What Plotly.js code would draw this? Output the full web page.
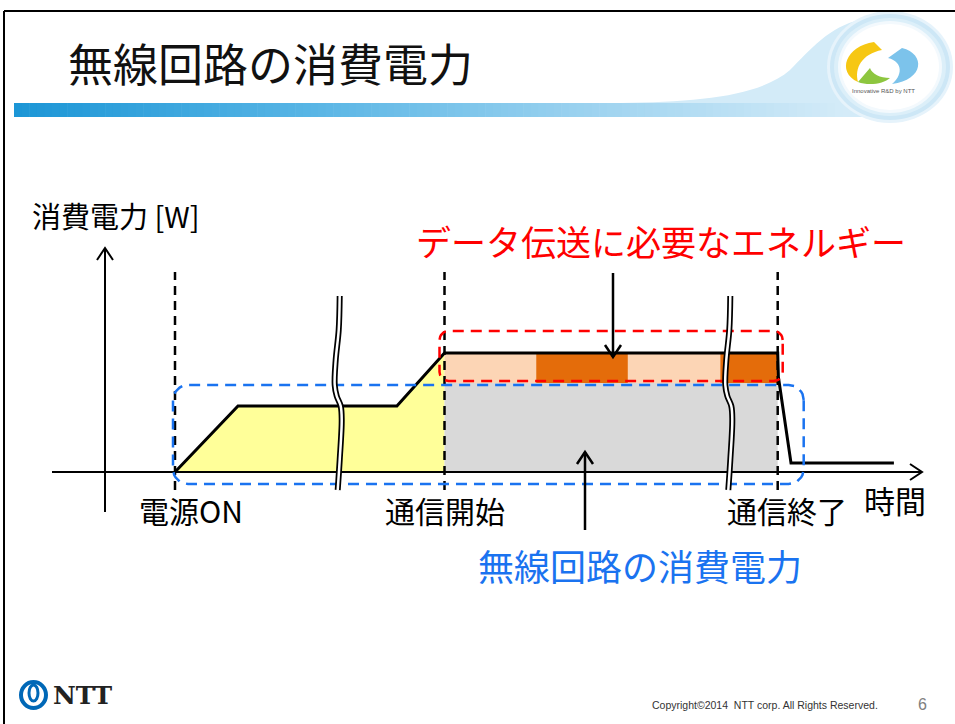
<!DOCTYPE html>
<html>
<head>
<meta charset="utf-8">
<script src="https://cdn.plot.ly/plotly-3.0.1.min.js"></script>
<style>
  html, body { margin: 0; padding: 0; background: #fff; }
  #chart { width: 955px; height: 724px; }
</style>
</head>
<body>
<div id="chart"></div>
<script>
// ---- Power profile of the radio circuit (time units, power units) ----
const profileTime  = [1.0, 1.9, 4.17, 4.85, 9.61, 9.62, 9.8, 11.27];
const profilePower = [0.0, 3.3, 3.3,  5.95, 5.95, 4.75, 0.45, 0.45];

// Events marked on the time axis
const eventTime  = [1.0, 4.85, 9.61];
const eventLabel = ['電源ON', '通信開始', '通信終了'];

// Circuit consumption and total consumption while communicating
const circuitPower = 4.45;
const commPower    = 5.95;

// Energy blocks needed for data transfer
const txStart = [4.85, 6.16, 7.47, 8.79];
const txEnd   = [6.16, 7.47, 8.79, 9.61];
const txKind  = ['idle', 'burst', 'idle', 'burst'];

// Where the time axis is broken (omitted stretches)
const breakTime = [3.31, 8.89];

// ---- Page geometry ----
const W = 955, H = 724;
const ORIGIN_X = 105, ORIGIN_Y = 472;   // where the axes cross on the page
const X_PX = 70, Y_PX = 20;             // pixels per unit
const ux = p => p / X_PX;               // pixel length -> time units
const uy = p => p / Y_PX;               // pixel length -> power units
const px = x => x / W;                  // page x -> paper
const py = y => 1 - y / H;              // page y -> paper

const JP = '"Noto Sans CJK JP", "Noto Sans", sans-serif';
const traces = [];
const plain = { mode: 'lines', hoverinfo: 'skip', showlegend: false };

// Start-up area (power on until communication starts)
const iStart = profileTime.indexOf(eventTime[1]);
traces.push(Object.assign({}, plain, {
  x: profileTime.slice(0, iStart + 1).concat([eventTime[1]]),
  y: profilePower.slice(0, iStart + 1).concat([0]),
  fill: 'toself', fillcolor: '#FFFF99', line: { width: 0 }
}));

// Radio circuit consumption during communication
traces.push(Object.assign({}, plain, {
  x: [eventTime[1], eventTime[2], eventTime[2], eventTime[1]],
  y: [0, 0, circuitPower, circuitPower],
  fill: 'toself', fillcolor: '#D9D9D9', line: { width: 0 }
}));

// Data-transfer energy blocks
txStart.forEach((s, i) => {
  traces.push(Object.assign({}, plain, {
    x: [s, txEnd[i], txEnd[i], s],
    y: [circuitPower, circuitPower, commPower, commPower],
    fill: 'toself',
    fillcolor: txKind[i] === 'burst' ? '#E46C0A' : '#FCD5B5',
    line: { width: 0 }
  }));
});

// Power curve
traces.push(Object.assign({}, plain, {
  x: profileTime, y: profilePower,
  line: { color: '#000', width: 3 }
}));

// Axes with open arrowheads
const xTip = ux(922 - ORIGIN_X), yTip = uy(ORIGIN_Y - 248);
const axisLine = { color: '#000', width: 2 };
traces.push(Object.assign({}, plain, { x: [ux(52 - ORIGIN_X), xTip], y: [0, 0], line: axisLine }));
traces.push(Object.assign({}, plain, { x: [xTip - ux(12), xTip, xTip - ux(12)], y: [uy(8), 0, -uy(8)], line: axisLine }));
traces.push(Object.assign({}, plain, { x: [0, 0], y: [-uy(40), yTip], line: axisLine }));
traces.push(Object.assign({}, plain, { x: [-ux(8), 0, ux(8)], y: [yTip - uy(12), yTip, yTip - uy(12)], line: axisLine }));

// Event markers
eventTime.forEach(t => {
  traces.push(Object.assign({}, plain, {
    x: [t, t], y: [-uy(18), uy(200)],
    line: { color: '#000', width: 2.5, dash: '9px,6px' }
  }));
});

// Rounded dashed frames
function roundedBox(t0, t1, p0, p1, r) {
  const xs = [], ys = [];
  const corners = [
    [t1 - ux(r), p1 - uy(r), 0],
    [t0 + ux(r), p1 - uy(r), 90],
    [t0 + ux(r), p0 + uy(r), 180],
    [t1 - ux(r), p0 + uy(r), 270]
  ];
  corners.forEach(([cx, cy, a0]) => {
    for (let k = 0; k <= 8; k++) {
      const a = (a0 + k * 90 / 8) * Math.PI / 180;
      xs.push(cx + ux(r) * Math.cos(a));
      ys.push(cy + uy(r) * Math.sin(a));
    }
  });
  xs.push(xs[0]); ys.push(ys[0]);
  return { x: xs, y: ys };
}
const redBox = roundedBox(eventTime[1] - ux(5), eventTime[2] + ux(5),
                          circuitPower + uy(2), commPower + uy(22), 9);
traces.push(Object.assign({}, plain, redBox, { line: { color: '#FF0000', width: 2.5, dash: '11px,7px' } }));
const blueBox = roundedBox(eventTime[0] - ux(2), eventTime[2] + ux(26),
                           -uy(12), circuitPower - uy(2), 15);
traces.push(Object.assign({}, plain, blueBox, { line: { color: '#1A73F0', width: 2.5, dash: '11px,7px' } }));

// Axis-break marks (double wavy lines)
const breakDx = [3, 2, -1, -2, 0, 4, 5, 3, 1];
const breakY  = [296, 330, 360, 385, 396, 406, 420, 460, 490];
breakTime.forEach(t => {
  const bx = breakDx.map(d => t + ux(d));
  const by = breakY.map(y => uy(ORIGIN_Y - y));
  traces.push(Object.assign({}, plain, { x: bx, y: by, line: { color: '#000', width: 6, shape: 'spline' } }));
  traces.push(Object.assign({}, plain, { x: bx, y: by, line: { color: '#fff', width: 2.5, shape: 'spline' } }));
});

// Pointer arrows
const pointerArrows = [
  { t: ux(613 - ORIGIN_X), from: uy(ORIGIN_Y - 273), to: commPower - uy(4) },
  { t: ux(585 - ORIGIN_X), from: -uy(58), to: uy(20) }
];
pointerArrows.forEach(a => {
  const dir = a.to > a.from ? 1 : -1;
  const ln = { color: '#000', width: 2.5 };
  traces.push(Object.assign({}, plain, { x: [a.t, a.t], y: [a.from, a.to], line: ln }));
  traces.push(Object.assign({}, plain, {
    x: [a.t - ux(8), a.t, a.t + ux(8)],
    y: [a.to - dir * uy(12), a.to, a.to - dir * uy(12)],
    line: ln
  }));
});

// ---- Page furniture: header bar, emblem, frame ----
const shapes = [];
// swoosh rising into the emblem
shapes.push({
  type: 'path', xref: 'paper', yref: 'paper', layer: 'below',
  path: `M ${px(620)},${py(103)} C ${px(700)},${py(102)} ${px(760)},${py(96)} ${px(790)},${py(70)} ` +
        `C ${px(810)},${py(50)} ${px(830)},${py(26)} ${px(860)},${py(20)} L ${px(870)},${py(117)} L ${px(620)},${py(117)} Z`,
  fillcolor: '#D3EBF8', line: { width: 0 }
});
// gradient bar
const barStops = [[0, [28, 150, 214]], [0.35, [88, 181, 229]], [0.7, [160, 212, 240]], [1, [214, 236, 248]]];
function barColor(f) {
  for (let i = 1; i < barStops.length; i++) {
    if (f <= barStops[i][0]) {
      const [f0, c0] = barStops[i - 1], [f1, c1] = barStops[i];
      const k = (f - f0) / (f1 - f0);
      return `rgb(${c0.map((c, j) => Math.round(c + (c1[j] - c) * k)).join(',')})`;
    }
  }
  return 'rgb(214,236,248)';
}
const barX0 = 14, barX1 = 850, nSlices = 110;
for (let i = 0; i < nSlices; i++) {
  const a = barX0 + (barX1 - barX0) * i / nSlices;
  const b = barX0 + (barX1 - barX0) * (i + 1) / nSlices + 0.6;
  shapes.push({
    type: 'rect', xref: 'paper', yref: 'paper', layer: 'below',
    x0: px(a), x1: px(b), y0: py(117), y1: py(103),
    fillcolor: barColor(i / nSlices), line: { width: 0 }
  });
}
// emblem disc with soft rim
const emCx = 890, emCy = 67;
[[63, 56, '#E6F3FB'], [60, 53, '#CDE7F6'], [56, 49, '#DCEFF9'], [52, 46, '#F3F9FD'], [49, 43, '#FFFFFF']].forEach(([rx, ry, c]) => {
  shapes.push({
    type: 'circle', xref: 'paper', yref: 'paper', layer: 'below',
    x0: px(emCx - rx), x1: px(emCx + rx), y0: py(emCy + ry), y1: py(emCy - ry),
    fillcolor: c, line: { width: 0 }
  });
});
const pathOf = pts => pts.map(s => s[0] + ' ' + s.slice(1).map(([x, y]) => `${px(x)},${py(y)}`).join(' ')).join(' ') + ' Z';
shapes.push({ type: 'path', xref: 'paper', yref: 'paper', layer: 'below', line: { width: 0 }, fillcolor: '#F6C713',
  path: pathOf([['M', [874, 42]], ['C', [846, 46], [836, 72], [858, 82]], ['C', [854, 68], [862, 54], [882, 50]]]) });
shapes.push({ type: 'path', xref: 'paper', yref: 'paper', layer: 'below', line: { width: 0 }, fillcolor: '#8DC63F',
  path: pathOf([['M', [858, 82]], ['C', [868, 86], [884, 84], [890, 78]], ['C', [880, 78], [872, 74], [870, 68]]]) });
shapes.push({ type: 'path', xref: 'paper', yref: 'paper', layer: 'below', line: { width: 0 }, fillcolor: '#7CC3EB',
  path: pathOf([['M', [902, 48]], ['C', [926, 54], [924, 80], [892, 84]], ['C', [902, 76], [904, 62], [888, 58]]]) });
// slide frame
shapes.push({ type: 'line', xref: 'paper', yref: 'paper', x0: px(4), x1: px(960), y0: py(11), y1: py(11), line: { color: '#000', width: 2 } });
shapes.push({ type: 'line', xref: 'paper', yref: 'paper', x0: px(4), x1: px(4), y0: py(11), y1: py(730), line: { color: '#000', width: 2 } });
// corporate mark
shapes.push({ type: 'circle', xref: 'paper', yref: 'paper', x0: px(21), x1: px(46), y0: py(708), y1: py(682),
  fillcolor: 'rgba(0,0,0,0)', line: { color: '#0068B7', width: 4 } });
shapes.push({ type: 'circle', xref: 'paper', yref: 'paper', x0: px(29), x1: px(38), y0: py(701), y1: py(685),
  fillcolor: 'rgba(0,0,0,0)', line: { color: '#0068B7', width: 3 } });

// ---- Text ----
const annotations = [];
const txt = (text, x, y, size, color, extra) => annotations.push(Object.assign({
  text, x, y, xref: 'paper', yref: 'paper', showarrow: false,
  xanchor: 'center', yanchor: 'middle',
  font: { family: JP, size, color }
}, extra || {}));

txt('無線回路の消費電力', px(66), py(62), 45, '#111', { xanchor: 'left' });
txt('消費電力 [W]', px(30), py(215), 29, '#000', { xanchor: 'left' });
txt('データ伝送に必要なエネルギー', px(661), py(240), 35, '#FF0000');
const labelShift = [16, 0, 9];
eventLabel.forEach((lab, i) => {
  annotations.push({
    text: lab, x: eventTime[i], y: py(510), xref: 'x', yref: 'paper',
    xshift: labelShift[i], showarrow: false, xanchor: 'center', yanchor: 'middle',
    font: { family: JP, size: 30, color: '#000' }
  });
});
txt('時間', px(895), py(499), 31, '#000');
txt('無線回路の消費電力', px(640), py(565), 36, '#1A73F0');
txt('Copyright©2014  NTT corp. All Rights Reserved.', px(880), py(705), 10.5, '#333',
    { xanchor: 'right', font: { family: '"Liberation Sans Narrow", "Liberation Sans", sans-serif', size: 10.5, color: '#333' } });
txt('6', px(922), py(704), 16, '#808080', { font: { family: '"Liberation Sans", sans-serif', size: 16, color: '#808080' } });
txt('<b>NTT</b>', px(51), py(695), 25, '#222', { xanchor: 'left', font: { family: '"DejaVu Serif", serif', size: 25, color: '#222' } });
txt('Innovative R&amp;D by NTT', px(883), py(91), 6, '#555', { font: { family: '"Liberation Sans", sans-serif', size: 6, color: '#555' } });

const layout = {
  width: W, height: H,
  margin: { l: 0, r: 0, t: 0, b: 0 },
  paper_bgcolor: '#fff', plot_bgcolor: 'rgba(0,0,0,0)',
  showlegend: false,
  xaxis: { range: [-ORIGIN_X / X_PX, (W - ORIGIN_X) / X_PX], visible: false, fixedrange: true },
  yaxis: { range: [-(H - ORIGIN_Y) / Y_PX, ORIGIN_Y / Y_PX], visible: false, fixedrange: true },
  shapes, annotations
};

Plotly.newPlot('chart', traces, layout, { staticPlot: true, displayModeBar: false });
</script>
</body>
</html>
